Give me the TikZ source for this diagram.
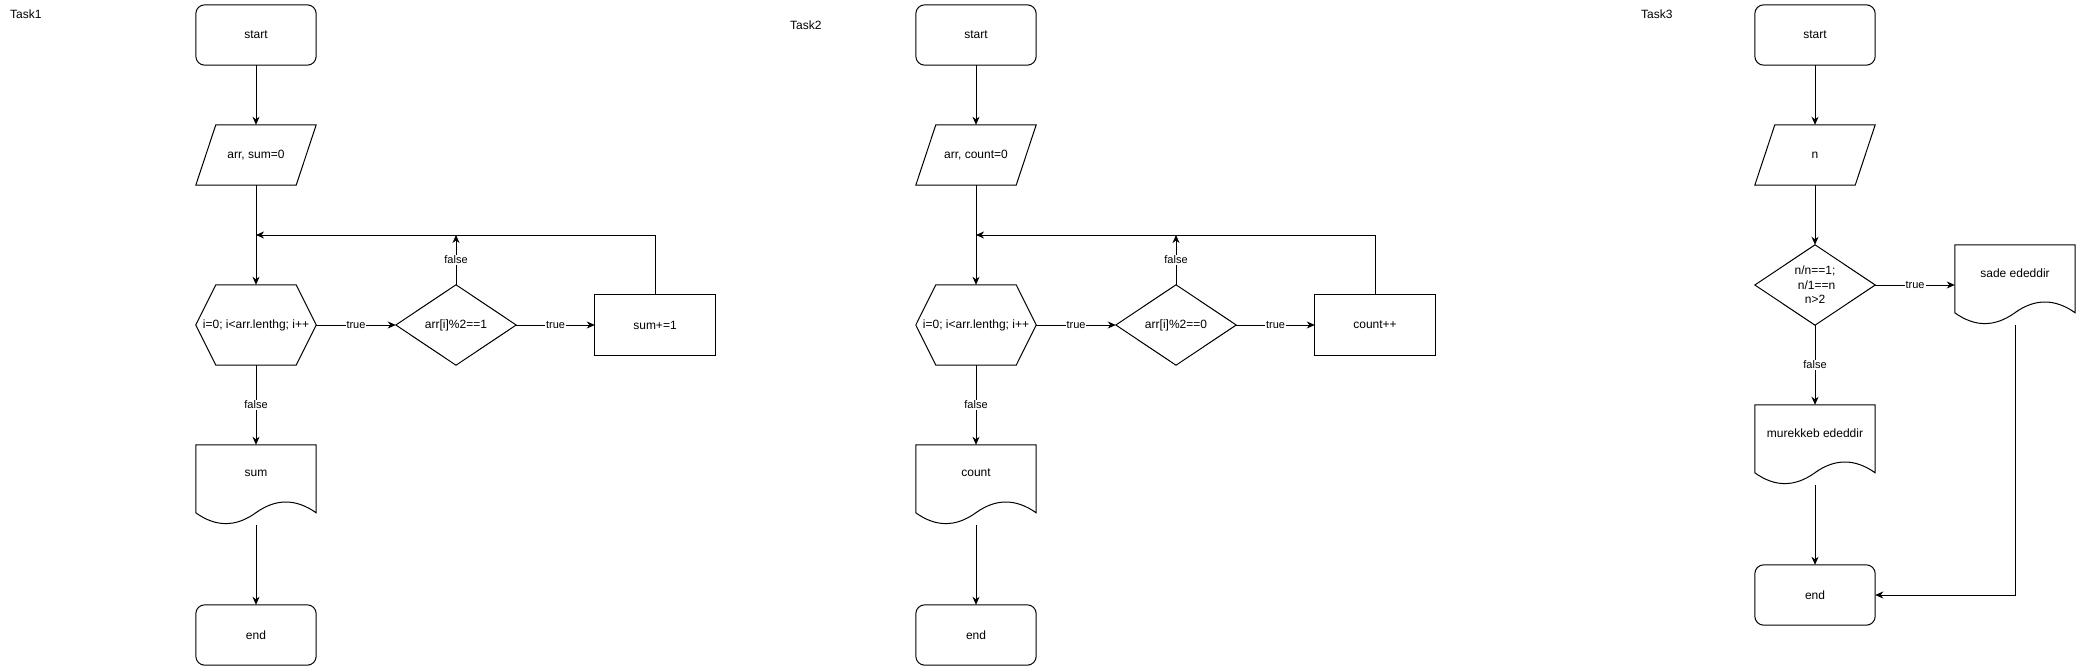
\documentclass[tikz,border=0pt]{standalone}
\usepackage{fontspec}
\setmainfont{Liberation Sans}
\usetikzlibrary{calc,arrows.meta}
\newcommand\rrshape[1]{\draw[outline,rounded corners=9pt] (#1.north west) rectangle (#1.south east);}
\newcommand\rectshape[1]{\draw[outline] (#1.north west) rectangle (#1.south east);}
\newcommand\parashape[1]{\draw[outline] ($(#1.north west)+(20,0)$) -- (#1.north east) -- ($(#1.south east)+(-20,0)$) -- (#1.south west) -- cycle;}
\newcommand\hexshape[1]{\draw[outline] (#1.west) -- ($(#1.north west)+(20,0)$) -- ($(#1.north east)+(-20,0)$) -- (#1.east) -- ($(#1.south east)+(-20,0)$) -- ($(#1.south west)+(20,0)$) -- cycle;}
\newcommand\diashape[1]{\draw[outline] (#1.north) -- (#1.east) -- (#1.south) -- (#1.west) -- cycle;}
\newcommand\docshape[1]{\draw[outline] (#1.north west) -- (#1.north east) -- ($(#1.north east)+(0,68)$) .. controls ($(#1.north west)+(100,53.6)$) and ($(#1.north west)+(80,53.6)$) .. ($(#1.north west)+(60,68)$) .. controls ($(#1.north west)+(40,82.4)$) and ($(#1.north west)+(20,82.4)$) .. ($(#1.north west)+(0,68)$) -- cycle;}
\begin{document}
\begin{tikzpicture}[x=1pt,y=-1pt,
  base/.style={draw=none, inner sep=0pt, minimum width=120pt, minimum height=60pt, font=\fontsize{12}{14.4}\selectfont, align=center},
  tall/.style={base, minimum height=80pt},
  txt/.style={inner sep=0pt, font=\fontsize{12}{14.4}\selectfont, align=center},
  outline/.style={draw=black, line width=1pt, line join=miter},
  arr/.style={draw=black, line width=1pt, -{Stealth[length=8pt,width=7pt,inset=2.5pt]}},
  lbl/.style={fill=white, inner sep=1pt, font=\fontsize{11}{13}\selectfont},
  tasklbl/.style={anchor=west, inner sep=0pt, font=\fontsize{12}{14.4}\selectfont}]
\fill[white] (0,0) rectangle (2076,666);
\useasboundingbox (0,0) rectangle (2076,666);

% ---------------- Task1 ----------------
\node[tasklbl] (tk1) at (10,14) {Task1};
\node[base] (a1) at (256,35) {start};
\node[base] (a2) at (256,155) {arr, sum=0};
\node[tall] (a3) at (256,325) {i=0; i<arr.lenthg; i++};
\node[tall] (a4) at (456,325) {arr[i]\%2==1};
\node[base] (a5) at (655,325) {sum+=1};
\node[tall] (a6) at (256,485) {};
\node[txt] (a6t) at (256,473) {sum};
\node[base] (a7) at (256,635) {end};
\coordinate (aj) at (256,235);
\rrshape{a1}\parashape{a2}\hexshape{a3}\diashape{a4}\rectshape{a5}\docshape{a6}\rrshape{a7}
\draw[arr] (a1.south) -- (a2.north);
\draw[arr] (a2.south) -- (a3.north);
\draw[arr] (a3.east) -- node[lbl] (la1) {true} (a4.west);
\draw[arr] (a4.east) -- node[lbl] (la2) {true} (a5.west);
\draw[arr] (a4.north) -- node[lbl] (la3) {false} (a4.north |- aj);
\draw[arr] (a5.north) |- (aj);
\draw[arr] (a3.south) -- node[lbl] (la4) {false} (a6.north);
\draw[arr] (a6.south) -- (a7.north);

% ---------------- Task2 ----------------
\node[tasklbl] (tk2) at (790,25) {Task2};
\node[base] (b1) at (976,35) {start};
\node[base] (b2) at (976,155) {arr, count=0};
\node[tall] (b3) at (976,325) {i=0; i<arr.lenthg; i++};
\node[tall] (b4) at (1176,325) {arr[i]\%2==0};
\node[base] (b5) at (1375,325) {count++};
\node[tall] (b6) at (976,485) {};
\node[txt] (b6t) at (976,473) {count};
\node[base] (b7) at (976,635) {end};
\coordinate (bj) at (976,235);
\rrshape{b1}\parashape{b2}\hexshape{b3}\diashape{b4}\rectshape{b5}\docshape{b6}\rrshape{b7}
\draw[arr] (b1.south) -- (b2.north);
\draw[arr] (b2.south) -- (b3.north);
\draw[arr] (b3.east) -- node[lbl] (lb1) {true} (b4.west);
\draw[arr] (b4.east) -- node[lbl] (lb2) {true} (b5.west);
\draw[arr] (b4.north) -- node[lbl] (lb3) {false} (b4.north |- bj);
\draw[arr] (b5.north) |- (bj);
\draw[arr] (b3.south) -- node[lbl] (lb4) {false} (b6.north);
\draw[arr] (b6.south) -- (b7.north);

% ---------------- Task3 ----------------
\node[tasklbl] (tk3) at (1641,14) {Task3};
\node[base] (c1) at (1815,35) {start};
\node[base] (c2) at (1815,155) {n};
\node[tall] (c3) at (1815,285) {n/n==1;\\\hspace*{3.3pt}n/1==n\\n>2};
\node[tall] (c4) at (2015,285) {};
\node[txt] (c4t) at (2015,273) {sade ededdir};
\node[tall] (c5) at (1815,445) {};
\node[txt] (c5t) at (1815,433) {murekkeb ededdir};
\node[base] (c6) at (1815,595) {end};
\rrshape{c1}\parashape{c2}\diashape{c3}\docshape{c4}\docshape{c5}\rrshape{c6}
\draw[arr] (c1.south) -- (c2.north);
\draw[arr] (c2.south) -- (c3.north);
\draw[arr] (c3.east) -- node[lbl] (lc1) {true} (c4.west);
\draw[arr] (c3.south) -- node[lbl] (lc2) {false} (c5.north);
\draw[arr] (c5.south) -- (c6.north);
\draw[arr] (c4.south) |- (c6.east);
\end{tikzpicture}
\end{document}
